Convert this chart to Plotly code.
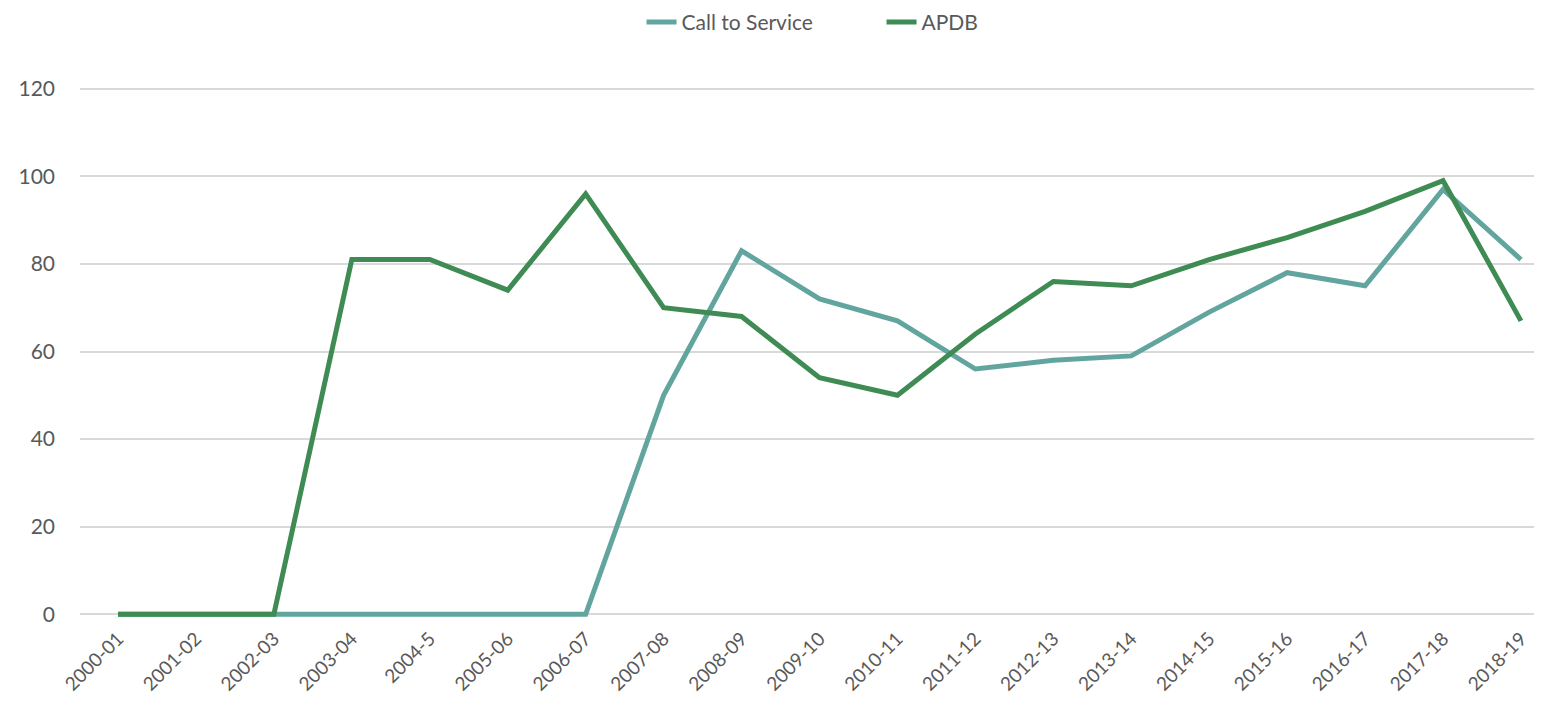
import plotly.graph_objects as go

categories = ["2000-01", "2001-02", "2002-03", "2003-04", "2004-5", "2005-06", "2006-07",
              "2007-08", "2008-09", "2009-10", "2010-11", "2011-12", "2012-13", "2013-14",
              "2014-15", "2015-16", "2016-17", "2017-18", "2018-19"]
call_to_service = [0, 0, 0, 0, 0, 0, 0, 50, 83, 72, 67, 56, 58, 59, 69, 78, 75, 97, 81]
apdb = [0, 0, 0, 81, 81, 74, 96, 70, 68, 54, 50, 64, 76, 75, 81, 86, 92, 99, 67]
y_ticks = [0, 20, 40, 60, 80, 100, 120]

font_family = "Lato, 'Open Sans', sans-serif"
text_color = "#595959"

fig = go.Figure()
fig.add_trace(go.Scatter(x=list(range(len(categories))), y=call_to_service, mode="lines",
                         name="Call to Service", line=dict(color="#62A59F", width=5)))
fig.add_trace(go.Scatter(x=list(range(len(categories))), y=apdb, mode="lines",
                         name="APDB", line=dict(color="#3E8B53", width=5)))

fig.update_layout(
    width=1542, height=717,
    margin=dict(l=72, r=10, t=72, b=102),
    paper_bgcolor="white", plot_bgcolor="white",
    font=dict(family=font_family, color=text_color, size=20),
    legend=dict(orientation="h", x=0.549, xanchor="center", y=0.98, yanchor="middle",
                yref="container", font=dict(size=21, color=text_color),
                entrywidth=195, entrywidthmode="pixels", tracegroupgap=0),
    showlegend=True,
)
fig.update_xaxes(
    tickmode="array", tickvals=list(range(len(categories))), ticktext=categories,
    tickangle=-45, range=[-0.4876, 18.244], showgrid=False, zeroline=False,
    showline=False, tickfont=dict(size=19, color=text_color), ticks="",
    automargin=False,
)
fig.update_yaxes(
    range=[-2, 122], tickmode="array", tickvals=y_ticks, showgrid=True,
    gridcolor="#D9D9D9", gridwidth=1.5, zeroline=False, showline=False,
    tickfont=dict(size=21, color=text_color), ticks="", ticklabelstandoff=24,
    automargin=False,
)
fig.write_html("out.html")
